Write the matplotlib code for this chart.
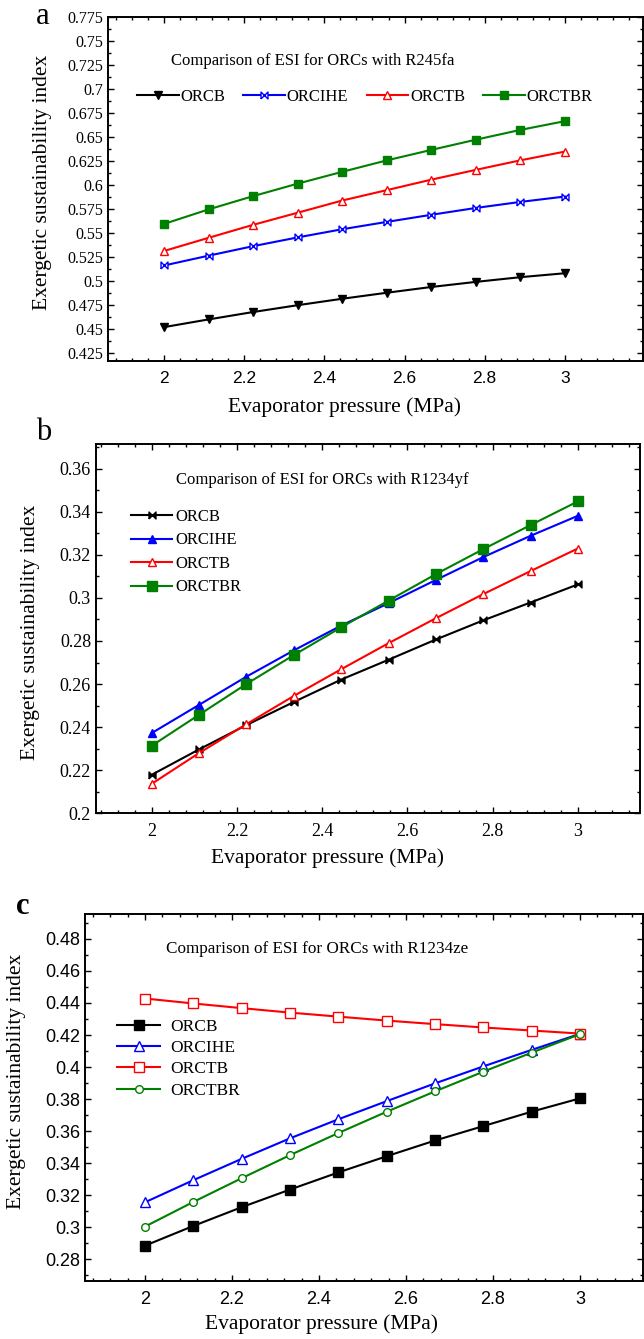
import matplotlib
matplotlib.use("Agg")
import matplotlib.pyplot as plt
from matplotlib.ticker import MultipleLocator, FuncFormatter

# evaporator pressure (MPa), same for all three panels
x_mpa = [2.0, 2.111, 2.222, 2.333, 2.444, 2.556, 2.667, 2.778, 2.889, 3.0]
labels = ["ORCB", "ORCIHE", "ORCTB", "ORCTBR"]

# (a) R245fa
esi_a_orcb = [0.452, 0.460, 0.4677, 0.4748, 0.4815, 0.4878, 0.4938, 0.4991, 0.504, 0.5081]
esi_a_orcihe = [0.5162, 0.5264, 0.5363, 0.5454, 0.5539, 0.5616, 0.569, 0.5761, 0.5824, 0.588]
esi_a_orctb = [0.5313, 0.545, 0.5585, 0.5711, 0.5838, 0.5947, 0.6056, 0.6158, 0.6257, 0.6348]
esi_a_orctbr = [0.5595, 0.5746, 0.5884, 0.6014, 0.6137, 0.6257, 0.6366, 0.6472, 0.6574, 0.6665]

# (b) R1234yf
esi_b_orcb = [0.2178, 0.2296, 0.2409, 0.2516, 0.2620, 0.2713, 0.2807, 0.2896, 0.2979, 0.3063]
esi_b_orcihe = [0.2372, 0.2503, 0.2634, 0.2756, 0.2871, 0.2976, 0.3084, 0.3190, 0.3289, 0.3382]
esi_b_orctb = [0.2136, 0.2279, 0.2413, 0.2544, 0.2668, 0.2790, 0.2906, 0.3018, 0.3125, 0.3230]
esi_b_orctbr = [0.2313, 0.2457, 0.2600, 0.2734, 0.2863, 0.2988, 0.3111, 0.3227, 0.3339, 0.3449]

# (c) R1234ze
esi_c_orcb = [0.2884, 0.3007, 0.3124, 0.3234, 0.3341, 0.3443, 0.3541, 0.3631, 0.3721, 0.3804]
esi_c_orcihe = [0.3155, 0.3293, 0.3426, 0.3554, 0.3673, 0.3787, 0.3898, 0.4004, 0.4107, 0.4207]
esi_c_orctb = [0.4428, 0.4397, 0.4368, 0.4340, 0.4315, 0.4290, 0.4268, 0.4247, 0.4228, 0.4209]
esi_c_orctbr = [0.3003, 0.3157, 0.3305, 0.3449, 0.3587, 0.3721, 0.3848, 0.3971, 0.4090, 0.4205]

SERIF = "Liberation Serif"
SANS = "Liberation Sans"
BLACK, BLUE, RED, GREEN = "black", "#0000ff", "#ff0000", "#008000"
bowtie = [(-1, -1), (-1, 1), (1, -1), (1, 1), (-1, -1)]

fmt = FuncFormatter(lambda v, p: "%g" % round(v, 4))


def style_axes(ax, xfont, yfont, xsize, ysize, ymajor, yminor, xlab_pos, ylab_pos):
    ax.xaxis.set_major_locator(MultipleLocator(0.2))
    ax.xaxis.set_minor_locator(MultipleLocator(0.04))
    ax.yaxis.set_major_locator(MultipleLocator(ymajor))
    ax.yaxis.set_minor_locator(MultipleLocator(yminor))
    ax.xaxis.set_major_formatter(fmt)
    ax.yaxis.set_major_formatter(fmt)
    ax.tick_params(which="both", direction="in", top=True, right=True, width=1.0)
    ax.tick_params(which="major", length=4.5)
    ax.tick_params(which="minor", length=2.5)
    ax.tick_params(axis="x", which="major", pad=7)
    for lab in ax.get_xticklabels():
        lab.set_fontfamily(xfont)
        lab.set_fontsize(xsize)
    for lab in ax.get_yticklabels():
        lab.set_fontfamily(yfont)
        lab.set_fontsize(ysize)
    for s in ax.spines.values():
        s.set_linewidth(1.4)
    ax.set_xlabel("Evaporator pressure (MPa)", family=SERIF, fontsize=15.5, va="center")
    ax.set_ylabel("Exergetic sustainability index", family=SERIF, fontsize=15.5, va="center")
    ax.xaxis.set_label_coords(*xlab_pos)
    ax.yaxis.set_label_coords(*ylab_pos)


fig = plt.figure(figsize=(6.44, 13.39), dpi=100)

# ---- panel a ----
ax = fig.add_axes([0.1677, 0.7304, 0.8307, 0.2569])
ax.plot(x_mpa, esi_a_orcb, color=BLACK, lw=1.5, marker="v", ms=6, label=labels[0])
ax.plot(x_mpa, esi_a_orcihe, color=BLUE, lw=1.5, marker=bowtie, ms=5, mfc="white", mew=1.0, label=labels[1])
ax.plot(x_mpa, esi_a_orctb, color=RED, lw=1.5, marker="^", ms=6, mfc="white", mew=1.0, label=labels[2])
ax.plot(x_mpa, esi_a_orctbr, color=GREEN, lw=1.5, marker="s", ms=6, label=labels[3])
ax.set_xlim(1.86, 3.195)
ax.set_ylim(0.4167, 0.775)
style_axes(ax, SANS, SERIF, 12.5, 11.5, 0.025, 0.0125, (0.443, -0.134), (-0.1215, 0.52))
ax.text(0.118, 0.872, "Comparison of ESI for ORCs with R245fa", transform=ax.transAxes,
        family=SERIF, fontsize=12, va="center", ha="left")
ax.legend(loc="center left", bbox_to_anchor=(0.054, 0.767), ncol=4, frameon=False,
          prop={"family": SERIF, "size": 12}, handlelength=2.5, handletextpad=0.1,
          columnspacing=1.1, borderpad=0, borderaxespad=0)
fig.text(43 / 644, 1 - 17 / 1339, "a", family=SERIF, fontsize=22, ha="center", va="center")

# ---- panel b ----
ax = fig.add_axes([0.149, 0.3928, 0.8448, 0.2756])
ax.plot(x_mpa, esi_b_orcb, color=BLACK, lw=1.5, marker=bowtie, ms=5, label=labels[0])
ax.plot(x_mpa, esi_b_orcihe, color=BLUE, lw=1.5, marker="^", ms=6, label=labels[1])
ax.plot(x_mpa, esi_b_orctb, color=RED, lw=1.5, marker="^", ms=6, mfc="white", mew=1.0, label=labels[2])
ax.plot(x_mpa, esi_b_orctbr, color=GREEN, lw=1.5, marker="s", ms=6.5, label=labels[3])
ax.set_xlim(1.869, 3.146)
ax.set_ylim(0.2, 0.3716)
style_axes(ax, SERIF, SERIF, 13, 13, 0.02, 0.01, (0.425, -0.122), (-0.121, 0.49))
ax.text(0.147, 0.902, "Comparison of ESI for ORCs with R1234yf", transform=ax.transAxes,
        family=SERIF, fontsize=12, va="center", ha="left")
ax.legend(loc="center left", bbox_to_anchor=(0.064, 0.707), frameon=False,
          prop={"family": SERIF, "size": 12}, handlelength=2.5, handletextpad=0.15,
          labelspacing=0.45, borderpad=0, borderaxespad=0)
fig.text(44 / 644, 1 - 432 / 1339, "b", family=SERIF, fontsize=22, ha="center", va="center")

# ---- panel c ----
ax = fig.add_axes([0.132, 0.0433, 0.8664, 0.2741])
ax.plot(x_mpa, esi_c_orcb, color=BLACK, lw=1.5, marker="s", ms=6.5, label=labels[0])
ax.plot(x_mpa, esi_c_orcihe, color=BLUE, lw=1.5, marker="^", ms=6.5, mfc="white", mew=1.0, label=labels[1])
ax.plot(x_mpa, esi_c_orctb, color=RED, lw=1.5, marker="s", ms=6.5, mfc="white", mew=1.0, label=labels[2])
ax.plot(x_mpa, esi_c_orctbr, color=GREEN, lw=1.5, marker="o", ms=5.5, mfc="white", mew=1.0, label=labels[3])
ax.set_xlim(1.862, 3.145)
ax.set_ylim(0.2663, 0.4956)
style_axes(ax, SANS, SANS, 13, 13, 0.02, 0.01, (0.423, -0.117), (-0.122, 0.545))
ax.text(0.145, 0.905, "Comparison of ESI for ORCs with R1234ze", transform=ax.transAxes,
        family=SERIF, fontsize=12.3, va="center", ha="left")
ax.legend(loc="center left", bbox_to_anchor=(0.057, 0.606), frameon=False,
          prop={"family": SERIF, "size": 12.5}, handlelength=2.5, handletextpad=0.6,
          labelspacing=0.3, borderpad=0, borderaxespad=0)
fig.text(23 / 644, 1 - 907 / 1339, "c", family=SERIF, fontsize=22, fontweight="bold",
         ha="center", va="center")

fig.savefig("out.png", dpi=100)
